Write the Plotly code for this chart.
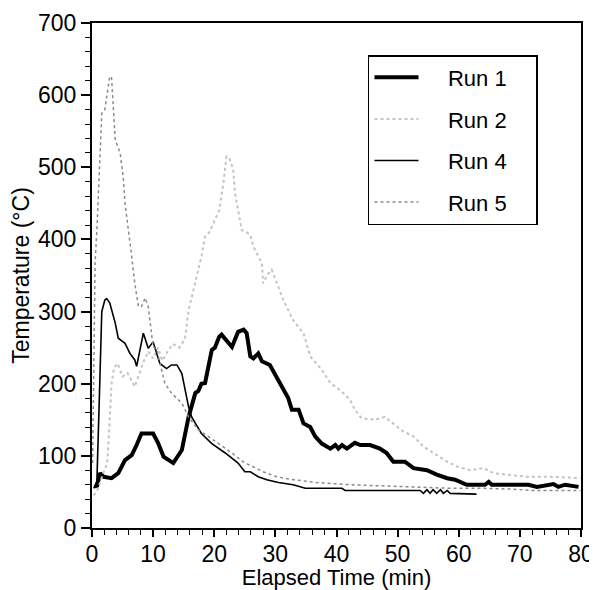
import plotly.graph_objects as go

# ---- data ----
run1_t = [0.5, 0.8, 1.3, 1.9, 3.2, 4.3, 5.4, 6.5, 7.3, 8.1, 10.0, 10.8, 11.7, 13.3, 14.7, 15.8, 16.9, 17.4, 17.9, 18.5,
          19.6, 20.1, 20.8, 21.2, 22.9, 23.9, 24.8, 25.3, 25.9, 26.4, 27.2, 27.8, 29.1, 30.2, 31.3, 32.1, 32.7, 33.8, 34.6, 35.7,
          36.5, 37.6, 39.0, 39.8, 40.3, 40.9, 41.7, 43.0, 43.9, 45.5, 47.1, 48.2, 49.3, 51.2, 52.6, 54.8, 56.4, 58.1, 59.4, 60.2,
          61.3, 64.3, 64.9, 65.4, 71.4, 72.8, 74.5, 75.5, 76.3, 76.8, 77.4, 79.6]
run1_v = [60, 57, 76, 71, 69, 76, 94, 101, 115, 131, 131, 118, 99, 90, 108, 154, 187, 190, 200, 201,
          247, 250, 265, 268, 251, 272, 275, 270, 238, 235, 242, 231, 226, 209, 194, 180, 164, 164, 145, 140,
          127, 117, 110, 115, 110, 115, 110, 118, 115, 115, 110, 104, 92, 92, 83, 80, 74, 69, 67, 64,
          60, 60, 64, 60, 60, 57, 60, 61, 57, 58, 60, 57]

run2_t = [0.3, 1.0, 1.8, 2.5, 2.9, 3.2, 3.6, 4.2, 5.0, 5.8, 7.0, 7.8, 8.4, 9.2, 10.0, 10.8, 11.5, 12.4, 13.2, 14.3,
          15.2, 15.8, 16.9, 17.9, 18.5, 19.2, 20.1, 20.8, 21.5, 22.0, 22.5, 23.1, 23.4, 24.5, 25.3, 25.9, 26.4, 27.8, 28.0, 28.6,
          29.4, 30.5, 31.3, 32.9, 34.6, 35.7, 37.6, 39.0, 40.6, 42.2, 43.0, 44.1, 46.3, 47.9, 49.6, 50.9, 52.6, 54.2, 56.4, 58.1,
          59.8, 61.9, 64.1, 65.7, 67.9, 71.1, 75.0, 79.9]
run2_v = [45, 55, 75, 90, 150, 200, 222, 228, 210, 215, 196, 215, 230, 245, 235, 250, 232, 245, 255, 250,
          262, 302, 339, 376, 404, 410, 427, 440, 478, 515, 512, 497, 464, 413, 410, 406, 390, 367, 339, 350,
          358, 335, 316, 288, 270, 238, 219, 201, 191, 178, 164, 152, 150, 154, 143, 134, 127, 113, 101, 92,
          85, 80, 83, 76, 74, 71, 71, 69]

run4_t = [0.3, 0.8, 1.2, 1.6, 2.1, 2.4, 2.9, 3.8, 4.3, 5.4, 6.2, 7.0, 7.3, 8.4, 9.2, 10.0, 11.1, 12.2, 13.0, 13.9,
          14.7, 15.8, 16.3, 17.9, 19.6, 21.8, 23.9, 25.0, 25.9, 27.2, 28.6, 30.5, 32.9, 34.9, 40.9, 41.4, 53.7, 54.2, 54.8, 55.3,
          55.8, 56.4, 57.0, 57.5, 58.1, 58.6, 62.9]
run4_v = [55, 65, 180, 300, 316, 318, 312, 284, 263, 256, 242, 233, 224, 270, 249, 258, 228, 221, 226, 226,
          214, 168, 154, 131, 117, 104, 90, 78, 78, 71, 67, 63, 60, 55, 55, 52, 52, 48, 53, 48,
          53, 48, 53, 48, 52, 48, 47]

run5_t = [0.1, 0.3, 0.5, 0.8, 1.0, 1.3, 1.6, 2.1, 2.4, 2.9, 3.2, 3.5, 3.8, 4.6, 5.1, 5.4, 5.9, 6.5, 7.0, 7.6,
          8.1, 8.7, 9.2, 9.5, 10.0, 10.6, 11.4, 11.9, 13.0, 14.7, 15.8, 17.4, 19.0, 20.7, 22.9, 25.0, 25.9, 28.0, 30.2, 32.9,
          36.8, 42.2, 50.4, 58.6, 64.1, 68.4, 72.2, 79.9]
run5_v = [90, 200, 367, 413, 460, 529, 575, 580, 598, 626, 624, 575, 538, 520, 487, 450, 418, 376, 339, 307,
          307, 319, 307, 284, 251, 247, 219, 201, 187, 173, 154, 136, 127, 117, 104, 90, 87, 78, 71, 67,
          63, 60, 57, 55, 55, 54, 52, 52]

series_names = ["Run 1", "Run 2", "Run 4", "Run 5"]

x_ticks = [0, 10, 20, 30, 40, 50, 60, 70, 80]
y_ticks = [0, 100, 200, 300, 400, 500, 600, 700]

FONT = "Liberation Sans, Arial, Helvetica, sans-serif"
PAD = "\u00a0" * 4
TAIL = "\u00a0" * 4

fig = go.Figure()
fig.add_trace(go.Scatter(x=run1_t, y=run1_v, mode="lines", name=PAD + series_names[0] + TAIL, legendgroup="1",
                         line=dict(color="black", width=4)))
fig.add_trace(go.Scatter(x=run2_t, y=run2_v, mode="lines", name=PAD + series_names[1] + TAIL, legendgroup="2",
                         line=dict(color="#c4c4c4", width=2, dash="dot")))
fig.add_trace(go.Scatter(x=run4_t, y=run4_v, mode="lines", name=PAD + series_names[2] + TAIL, legendgroup="4",
                         line=dict(color="black", width=1.6)))
fig.add_trace(go.Scatter(x=run5_t, y=run5_v, mode="lines", name=PAD + series_names[3] + TAIL, legendgroup="5",
                         line=dict(color="#8a8a8a", width=1.5, dash="dot")))

axis_common = dict(showgrid=False, zeroline=False, showline=True, linecolor="black", linewidth=2,
                   mirror=True, ticks="outside", tickcolor="black", tickwidth=1.5,
                   automargin=False,
                   tickfont=dict(family=FONT, size=23, color="black"))

fig.update_xaxes(range=[0, 80], tickvals=x_ticks, ticklen=7, ticklabelstandoff=-3,
                 title=dict(text="\u00a0\u00a0Elapsed Time (min)", font=dict(family=FONT, size=22, color="black"),
                            standoff=12),
                 minor=dict(dtick=2, ticks="outside", ticklen=5, tickcolor="black", tickwidth=1),
                 **axis_common)
fig.update_yaxes(range=[0, 700], tickvals=y_ticks, ticklen=9,
                 title=dict(text="Temperature (°C)", font=dict(family=FONT, size=23, color="black"), standoff=4),
                 minor=dict(dtick=20, ticks="outside", ticklen=5, tickcolor="black", tickwidth=1),
                 **axis_common)

# page body has an 8px margin, so the figure is sized to the visible area
fig.update_layout(
    width=589, height=582,
    margin=dict(l=84, r=16, t=15, b=62),
    paper_bgcolor="white", plot_bgcolor="white",
    showlegend=True,
    legend=dict(x=0.5644, y=0.9366, xanchor="left", yanchor="top",
                bordercolor="black", borderwidth=1.5, bgcolor="white",
                font=dict(family=FONT, size=22, color="black"),
                traceorder="grouped", tracegroupgap=10, itemwidth=44),
)

fig.write_html("out.html")
